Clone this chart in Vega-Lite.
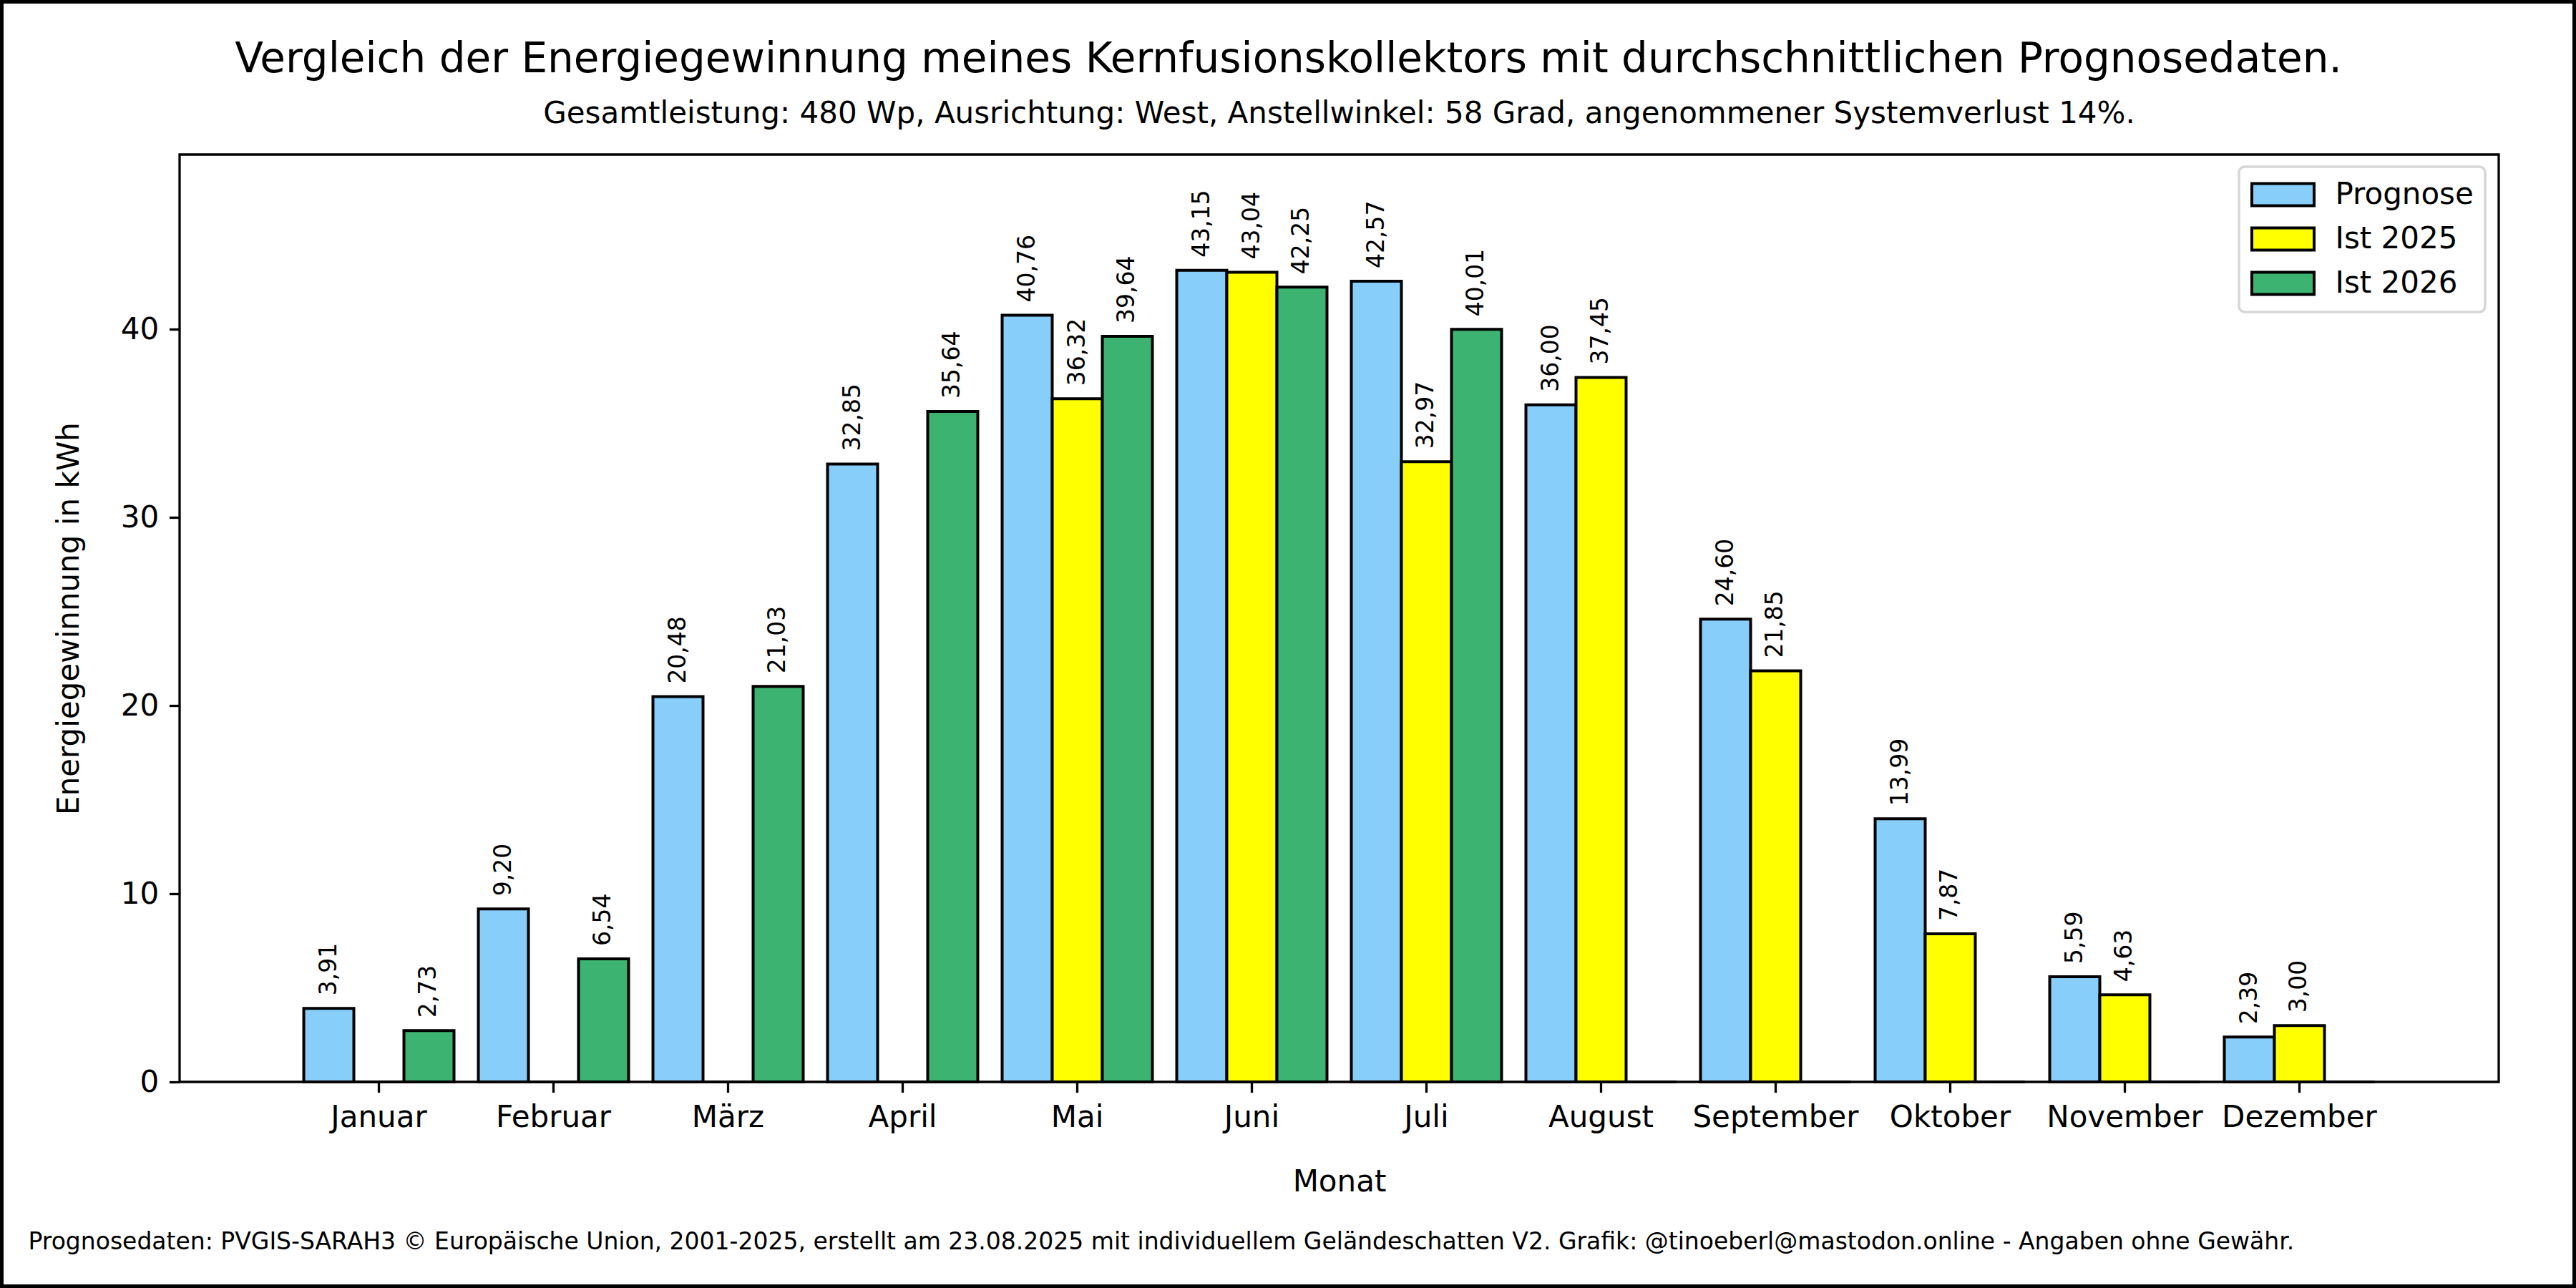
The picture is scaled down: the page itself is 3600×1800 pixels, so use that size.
{
  "$schema": "https://vega.github.io/schema/vega-lite/v6.json",
  "width": 3241,
  "height": 1296,
  "autosize": {"type": "none"},
  "padding": {"left": 251, "top": 216, "right": 108, "bottom": 288},
  "background": "white",
  "title": {
    "text": "Gesamtleistung: 480 Wp, Ausrichtung: West, Anstellwinkel: 58 Grad, angenommener Systemverlust 14%.",
    "fontSize": 42,
    "font": "DejaVu Sans",
    "fontWeight": "normal",
    "color": "black",
    "anchor": "middle",
    "offset": -186
  },
  "layer": [
    {
      "data": {
        "values": [
          {"monat": "Januar", "reihe": "Prognose", "wert": 3.91},
          {"monat": "Februar", "reihe": "Prognose", "wert": 9.20},
          {"monat": "März", "reihe": "Prognose", "wert": 20.48},
          {"monat": "April", "reihe": "Prognose", "wert": 32.85},
          {"monat": "Mai", "reihe": "Prognose", "wert": 40.76},
          {"monat": "Juni", "reihe": "Prognose", "wert": 43.15},
          {"monat": "Juli", "reihe": "Prognose", "wert": 42.57},
          {"monat": "August", "reihe": "Prognose", "wert": 36.00},
          {"monat": "September", "reihe": "Prognose", "wert": 24.60},
          {"monat": "Oktober", "reihe": "Prognose", "wert": 13.99},
          {"monat": "November", "reihe": "Prognose", "wert": 5.59},
          {"monat": "Dezember", "reihe": "Prognose", "wert": 2.39},
          {"monat": "Januar", "reihe": "Ist 2025", "wert": 0},
          {"monat": "Februar", "reihe": "Ist 2025", "wert": 0},
          {"monat": "März", "reihe": "Ist 2025", "wert": 0},
          {"monat": "April", "reihe": "Ist 2025", "wert": 0},
          {"monat": "Mai", "reihe": "Ist 2025", "wert": 36.32},
          {"monat": "Juni", "reihe": "Ist 2025", "wert": 43.04},
          {"monat": "Juli", "reihe": "Ist 2025", "wert": 32.97},
          {"monat": "August", "reihe": "Ist 2025", "wert": 37.45},
          {"monat": "September", "reihe": "Ist 2025", "wert": 21.85},
          {"monat": "Oktober", "reihe": "Ist 2025", "wert": 7.87},
          {"monat": "November", "reihe": "Ist 2025", "wert": 4.63},
          {"monat": "Dezember", "reihe": "Ist 2025", "wert": 3.00},
          {"monat": "Januar", "reihe": "Ist 2026", "wert": 2.73},
          {"monat": "Februar", "reihe": "Ist 2026", "wert": 6.54},
          {"monat": "März", "reihe": "Ist 2026", "wert": 21.03},
          {"monat": "April", "reihe": "Ist 2026", "wert": 35.64},
          {"monat": "Mai", "reihe": "Ist 2026", "wert": 39.64},
          {"monat": "Juni", "reihe": "Ist 2026", "wert": 42.25},
          {"monat": "Juli", "reihe": "Ist 2026", "wert": 40.01},
          {"monat": "August", "reihe": "Ist 2026", "wert": 0},
          {"monat": "September", "reihe": "Ist 2026", "wert": 0},
          {"monat": "Oktober", "reihe": "Ist 2026", "wert": 0},
          {"monat": "November", "reihe": "Ist 2026", "wert": 0},
          {"monat": "Dezember", "reihe": "Ist 2026", "wert": 0}
        ]
      },
      "encoding": {
        "x": {
          "field": "monat",
          "type": "nominal",
          "sort": ["Januar", "Februar", "März", "April", "Mai", "Juni", "Juli", "August", "September", "Oktober", "November", "Dezember"],
          "scale": {"paddingInner": 0, "paddingOuter": 0.6414},
          "axis": {"title": "Monat", "labelAngle": 0, "titlePadding": 49, "labelLimit": 500}
        },
        "xOffset": {
          "field": "reihe",
          "type": "nominal",
          "sort": ["Prognose", "Ist 2025", "Ist 2026"],
          "scale": {"paddingInner": 0, "paddingOuter": 0.243}
        },
        "y": {
          "field": "wert",
          "type": "quantitative",
          "scale": {"domain": [0, 49.3], "nice": false},
          "axis": {"title": "Energiegewinnung in kWh", "values": [0, 10, 20, 30, 40], "titlePadding": 50}
        }
      },
      "layer": [
        {
          "mark": {"type": "bar", "stroke": "black", "strokeWidth": 4},
          "encoding": {
            "color": {
              "field": "reihe",
              "type": "nominal",
              "sort": ["Prognose", "Ist 2025", "Ist 2026"],
              "scale": {"domain": ["Prognose", "Ist 2025", "Ist 2026"], "range": ["#87CEFA", "#FFFF00", "#3CB371"]},
              "legend": {"orient": "none", "legendX": 2878, "legendY": 17, "title": null}
            }
          }
        },
        {
          "transform": [{"filter": "datum.wert > 0"}],
          "mark": {"type": "text", "angle": 270, "align": "left", "baseline": "middle", "dx": 18, "fontSize": 33, "font": "DejaVu Sans", "color": "black"},
          "encoding": {
            "text": {"field": "wert", "type": "quantitative", "format": ".2f"}
          }
        }
      ]
    },
    {
      "data": {"values": [{"fx": 0, "fx2": 1, "fy": 0, "fy2": 1}]},
      "mark": {"type": "rect", "fill": "transparent", "stroke": "black", "strokeWidth": 10},
      "encoding": {
        "x": {
          "field": "fx",
          "type": "quantitative",
          "scale": {"domain": [0, 1], "range": [-251, 3349]},
          "axis": {
            "orient": "top", "domain": false, "ticks": false, "labels": false, "grid": false,
            "title": "Vergleich der Energiegewinnung meines Kernfusionskollektors mit durchschnittlichen Prognosedaten.",
            "titleFontSize": 58, "titleX": 1549, "titleY": -116, "titleAlign": "center", "titleBaseline": "alphabetic", "titleAngle": 0, "titleLimit": 4000
          }
        },
        "x2": {"field": "fx2"},
        "y": {
          "field": "fy",
          "type": "quantitative",
          "scale": {"domain": [0, 1], "range": [1584, -216]},
          "axis": {
            "orient": "left", "domain": false, "ticks": false, "labels": false, "grid": false,
            "title": "Prognosedaten: PVGIS-SARAH3 © Europäische Union, 2001-2025, erstellt am 23.08.2025 mit individuellem Geländeschatten V2. Grafik: @tinoeberl@mastodon.online - Angaben ohne Gewähr.",
            "titleFontSize": 33, "titleAngle": 0, "titleAlign": "left", "titleBaseline": "alphabetic", "titleX": -212, "titleY": 1529, "titleLimit": 4000
          }
        },
        "y2": {"field": "fy2"}
      }
    }
  ],
  "resolve": {"scale": {"x": "independent", "y": "independent"}},
  "config": {
    "locale": {"number": {"decimal": ",", "thousands": ".", "grouping": [3], "currency": ["", " €"]}},
    "font": "DejaVu Sans",
    "view": {"stroke": "black", "strokeWidth": 3.3},
    "title": {"limit": 4000},
    "axis": {
      "domain": false,
      "grid": false,
      "labelFont": "DejaVu Sans",
      "labelFontSize": 42,
      "labelColor": "black",
      "tickColor": "black",
      "tickWidth": 3.3,
      "tickSize": 14.6,
      "labelPadding": 14.6,
      "titleFont": "DejaVu Sans",
      "titleFontSize": 42,
      "titleFontWeight": "normal",
      "titleColor": "black"
    },
    "legend": {
      "labelFont": "DejaVu Sans",
      "labelFontSize": 42,
      "labelColor": "black",
      "labelLimit": 500,
      "symbolType": "M-2.071,-0.738L2.071,-0.738L2.071,0.738L-2.071,0.738Z",
      "symbolSize": 1764,
      "symbolStrokeColor": "black",
      "symbolStrokeWidth": 4,
      "symbolOpacity": 1,
      "symbolOffset": 22.5,
      "labelOffset": 50,
      "rowPadding": 14,
      "padding": 16,
      "strokeColor": "#d6d6d6",
      "strokeWidth": 3.5,
      "cornerRadius": 8,
      "fillColor": "white"
    }
  }
}
